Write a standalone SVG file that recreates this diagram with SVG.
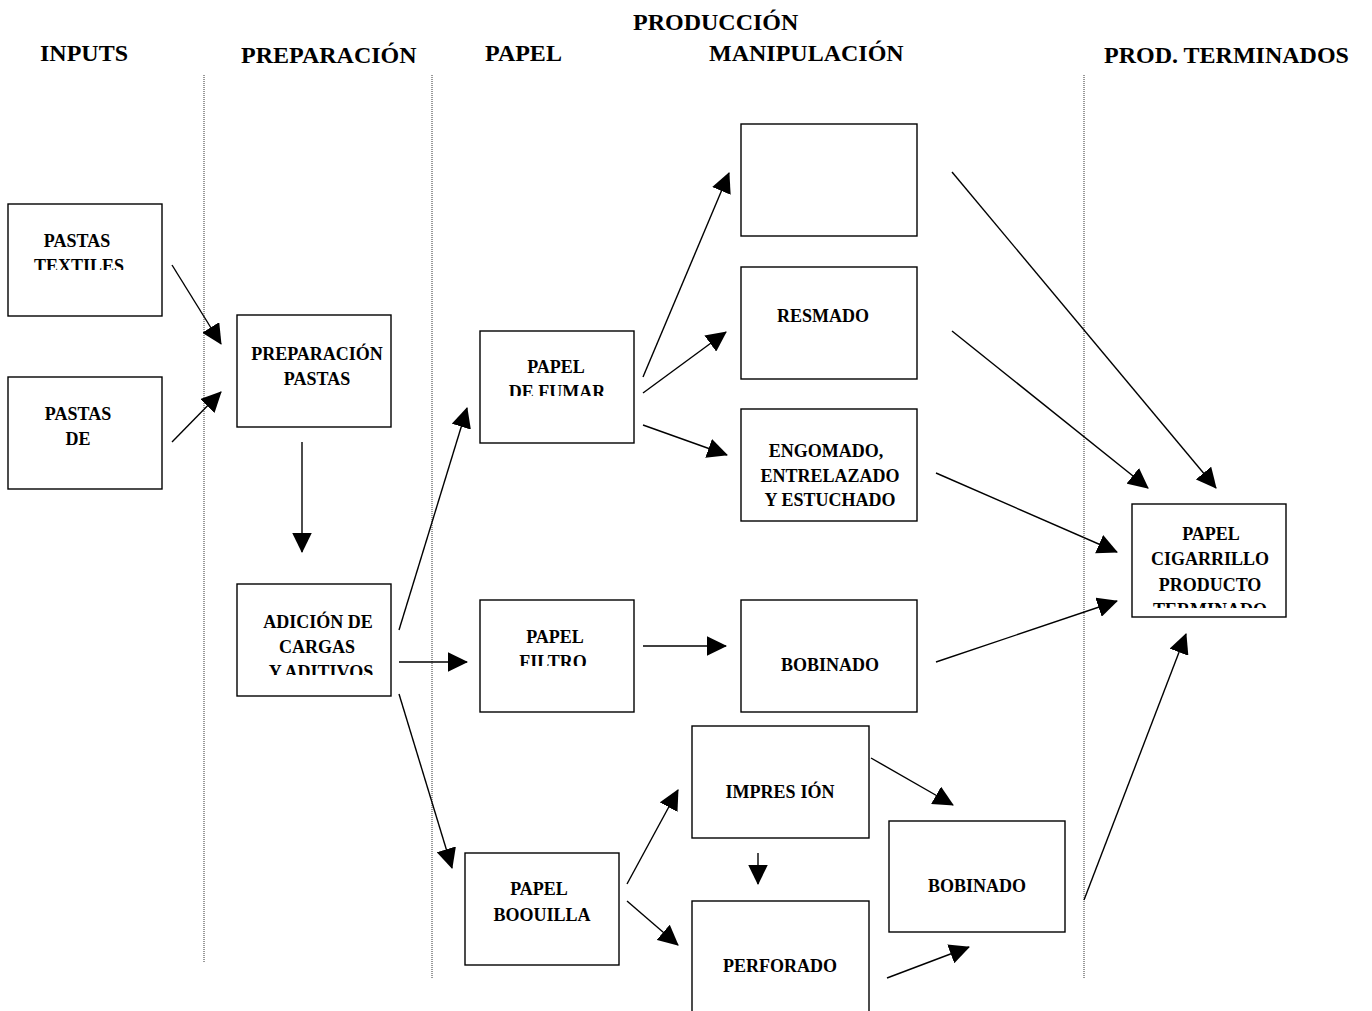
<svg xmlns="http://www.w3.org/2000/svg" width="1372" height="1011" viewBox="0 0 1372 1011">
<style>
.bg{fill:#fff}
.box{fill:#fff;stroke:#000;stroke-width:1.4}
.t{font-family:"Liberation Serif","Times New Roman",serif;font-weight:bold;font-size:18px;fill:#000;text-anchor:middle}
.h{font-family:"Liberation Serif","Times New Roman",serif;font-weight:bold;font-size:24px;fill:#000}
.sep{stroke:#333;stroke-width:1;stroke-dasharray:1 1;fill:none}
.c{stroke:#000;stroke-width:1.4;fill:none;marker-end:url(#ah)}
</style>
<defs>
<marker id="ah" markerWidth="21" markerHeight="20" refX="19.5" refY="10" orient="auto" markerUnits="userSpaceOnUse"><path d="M0,0 L20.5,10 L0,20 z" fill="#000"/></marker>
<clipPath id="cTex"><rect x="0" y="200" width="200" height="70"/></clipPath>
<clipPath id="cFum"><rect x="470" y="330" width="170" height="66"/></clipPath>
<clipPath id="cAdi"><rect x="230" y="580" width="170" height="95"/></clipPath>
<clipPath id="cFil"><rect x="470" y="600" width="170" height="66"/></clipPath>
<clipPath id="cBoq"><rect x="460" y="850" width="170" height="71"/></clipPath>
<clipPath id="cCig"><rect x="1130" y="500" width="160" height="108"/></clipPath>
</defs>
<rect class="bg" x="0" y="0" width="1372" height="1011"/>

<g id="headers">
<text class="h" x="40" y="61">INPUTS</text>
<text class="h" x="241" y="63">PREPARACIÓN</text>
<text class="h" x="485" y="61">PAPEL</text>
<text class="h" x="633" y="30">PRODUCCIÓN</text>
<text class="h" x="709" y="61">MANIPULACIÓN</text>
<text class="h" x="1104" y="63">PROD. TERMINADOS</text>
</g>

<g id="separators">
<line class="sep" x1="204" y1="75" x2="204" y2="962"/>
<line class="sep" x1="432" y1="75" x2="432" y2="978"/>
<line class="sep" x1="1084" y1="75" x2="1084" y2="978"/>
</g>

<g id="connectors">
<line class="c" x1="172" y1="265" x2="221" y2="344"/>
<line class="c" x1="172" y1="442" x2="221" y2="392"/>
<line class="c" x1="302" y1="442" x2="302" y2="552"/>
<line class="c" x1="399" y1="630" x2="467" y2="408"/>
<line class="c" x1="399" y1="662" x2="467" y2="662"/>
<line class="c" x1="399" y1="694" x2="452" y2="868"/>
<line class="c" x1="643" y1="377" x2="729" y2="173"/>
<line class="c" x1="643" y1="393" x2="726" y2="332"/>
<line class="c" x1="643" y1="425" x2="727" y2="455"/>
<line class="c" x1="643" y1="646" x2="726" y2="646"/>
<line class="c" x1="627" y1="884" x2="678" y2="790"/>
<line class="c" x1="627" y1="901" x2="678" y2="945"/>
<line class="c" x1="758" y1="853" x2="758" y2="884"/>
<line class="c" x1="871" y1="758" x2="953" y2="805"/>
<line class="c" x1="887" y1="978" x2="969" y2="947"/>
<line class="c" x1="952" y1="172" x2="1216" y2="488"/>
<line class="c" x1="952" y1="331" x2="1148" y2="488"/>
<line class="c" x1="936" y1="473" x2="1117" y2="552"/>
<line class="c" x1="936" y1="662" x2="1117" y2="601"/>
<line class="c" x1="1084" y1="900" x2="1186" y2="634"/>
</g>

<g id="n-pastas-textiles">
<rect class="box" x="8" y="204" width="154" height="112"/>
<g clip-path="url(#cTex)">
<text class="t" x="77" y="247">PASTAS</text>
<text class="t" x="79" y="272">TEXTILES</text>
</g>
</g>

<g id="n-pastas-de">
<rect class="box" x="8" y="377" width="154" height="112"/>
<text class="t" x="78" y="420">PASTAS</text>
<text class="t" x="78" y="445">DE</text>
</g>

<g id="n-preparacion">
<rect class="box" x="237" y="315" width="154" height="112"/>
<text class="t" x="317" y="360">PREPARACIÓN</text>
<text class="t" x="317" y="385">PASTAS</text>
</g>

<g id="n-adicion">
<rect class="box" x="237" y="584" width="154" height="112"/>
<g clip-path="url(#cAdi)">
<text class="t" x="318" y="628">ADICIÓN DE</text>
<text class="t" x="317" y="653">CARGAS</text>
<text class="t" x="321" y="678">Y ADITIVOS</text>
</g>
</g>

<g id="n-papel-fumar">
<rect class="box" x="480" y="331" width="154" height="112"/>
<g clip-path="url(#cFum)">
<text class="t" x="556" y="373">PAPEL</text>
<text class="t" x="557" y="398">DE FUMAR</text>
</g>
</g>

<g id="n-papel-filtro">
<rect class="box" x="480" y="600" width="154" height="112"/>
<g clip-path="url(#cFil)">
<text class="t" x="555" y="643">PAPEL</text>
<text class="t" x="553" y="668">FILTRO</text>
</g>
</g>

<g id="n-papel-boquilla">
<rect class="box" x="465" y="853" width="154" height="112"/>
<g clip-path="url(#cBoq)">
<text class="t" x="539" y="895">PAPEL</text>
<text class="t" x="542" y="921">BOQUILLA</text>
</g>
</g>

<g id="n-vacio">
<rect class="box" x="741" y="124" width="176" height="112"/>
</g>

<g id="n-resmado">
<rect class="box" x="741" y="267" width="176" height="112"/>
<text class="t" x="823" y="322">RESMADO</text>
</g>

<g id="n-engomado">
<rect class="box" x="741" y="409" width="176" height="112"/>
<text class="t" x="826" y="457">ENGOMADO,</text>
<text class="t" x="830" y="482">ENTRELAZADO</text>
<text class="t" x="830" y="506">Y ESTUCHADO</text>
</g>

<g id="n-bobinado-1">
<rect class="box" x="741" y="600" width="176" height="112"/>
<text class="t" x="830" y="671">BOBINADO</text>
</g>

<g id="n-impresion">
<rect class="box" x="692" y="726" width="177" height="112"/>
<text class="t" x="780" y="798">IMPRES<tspan dx="5">IÓN</tspan></text>
</g>

<g id="n-perforado">
<rect class="box" x="692" y="901" width="177" height="125"/>
<text class="t" x="780" y="972">PERFORADO</text>
</g>

<g id="n-bobinado-2">
<rect class="box" x="889" y="821" width="176" height="111"/>
<text class="t" x="977" y="892">BOBINADO</text>
</g>

<g id="n-papel-cigarrillo">
<rect class="box" x="1132" y="504" width="154" height="113"/>
<g clip-path="url(#cCig)">
<text class="t" x="1211" y="540">PAPEL</text>
<text class="t" x="1210" y="565">CIGARRILLO</text>
<text class="t" x="1210" y="591">PRODUCTO</text>
<text class="t" x="1210" y="616">TERMINADO</text>
</g>
</g>
</svg>
